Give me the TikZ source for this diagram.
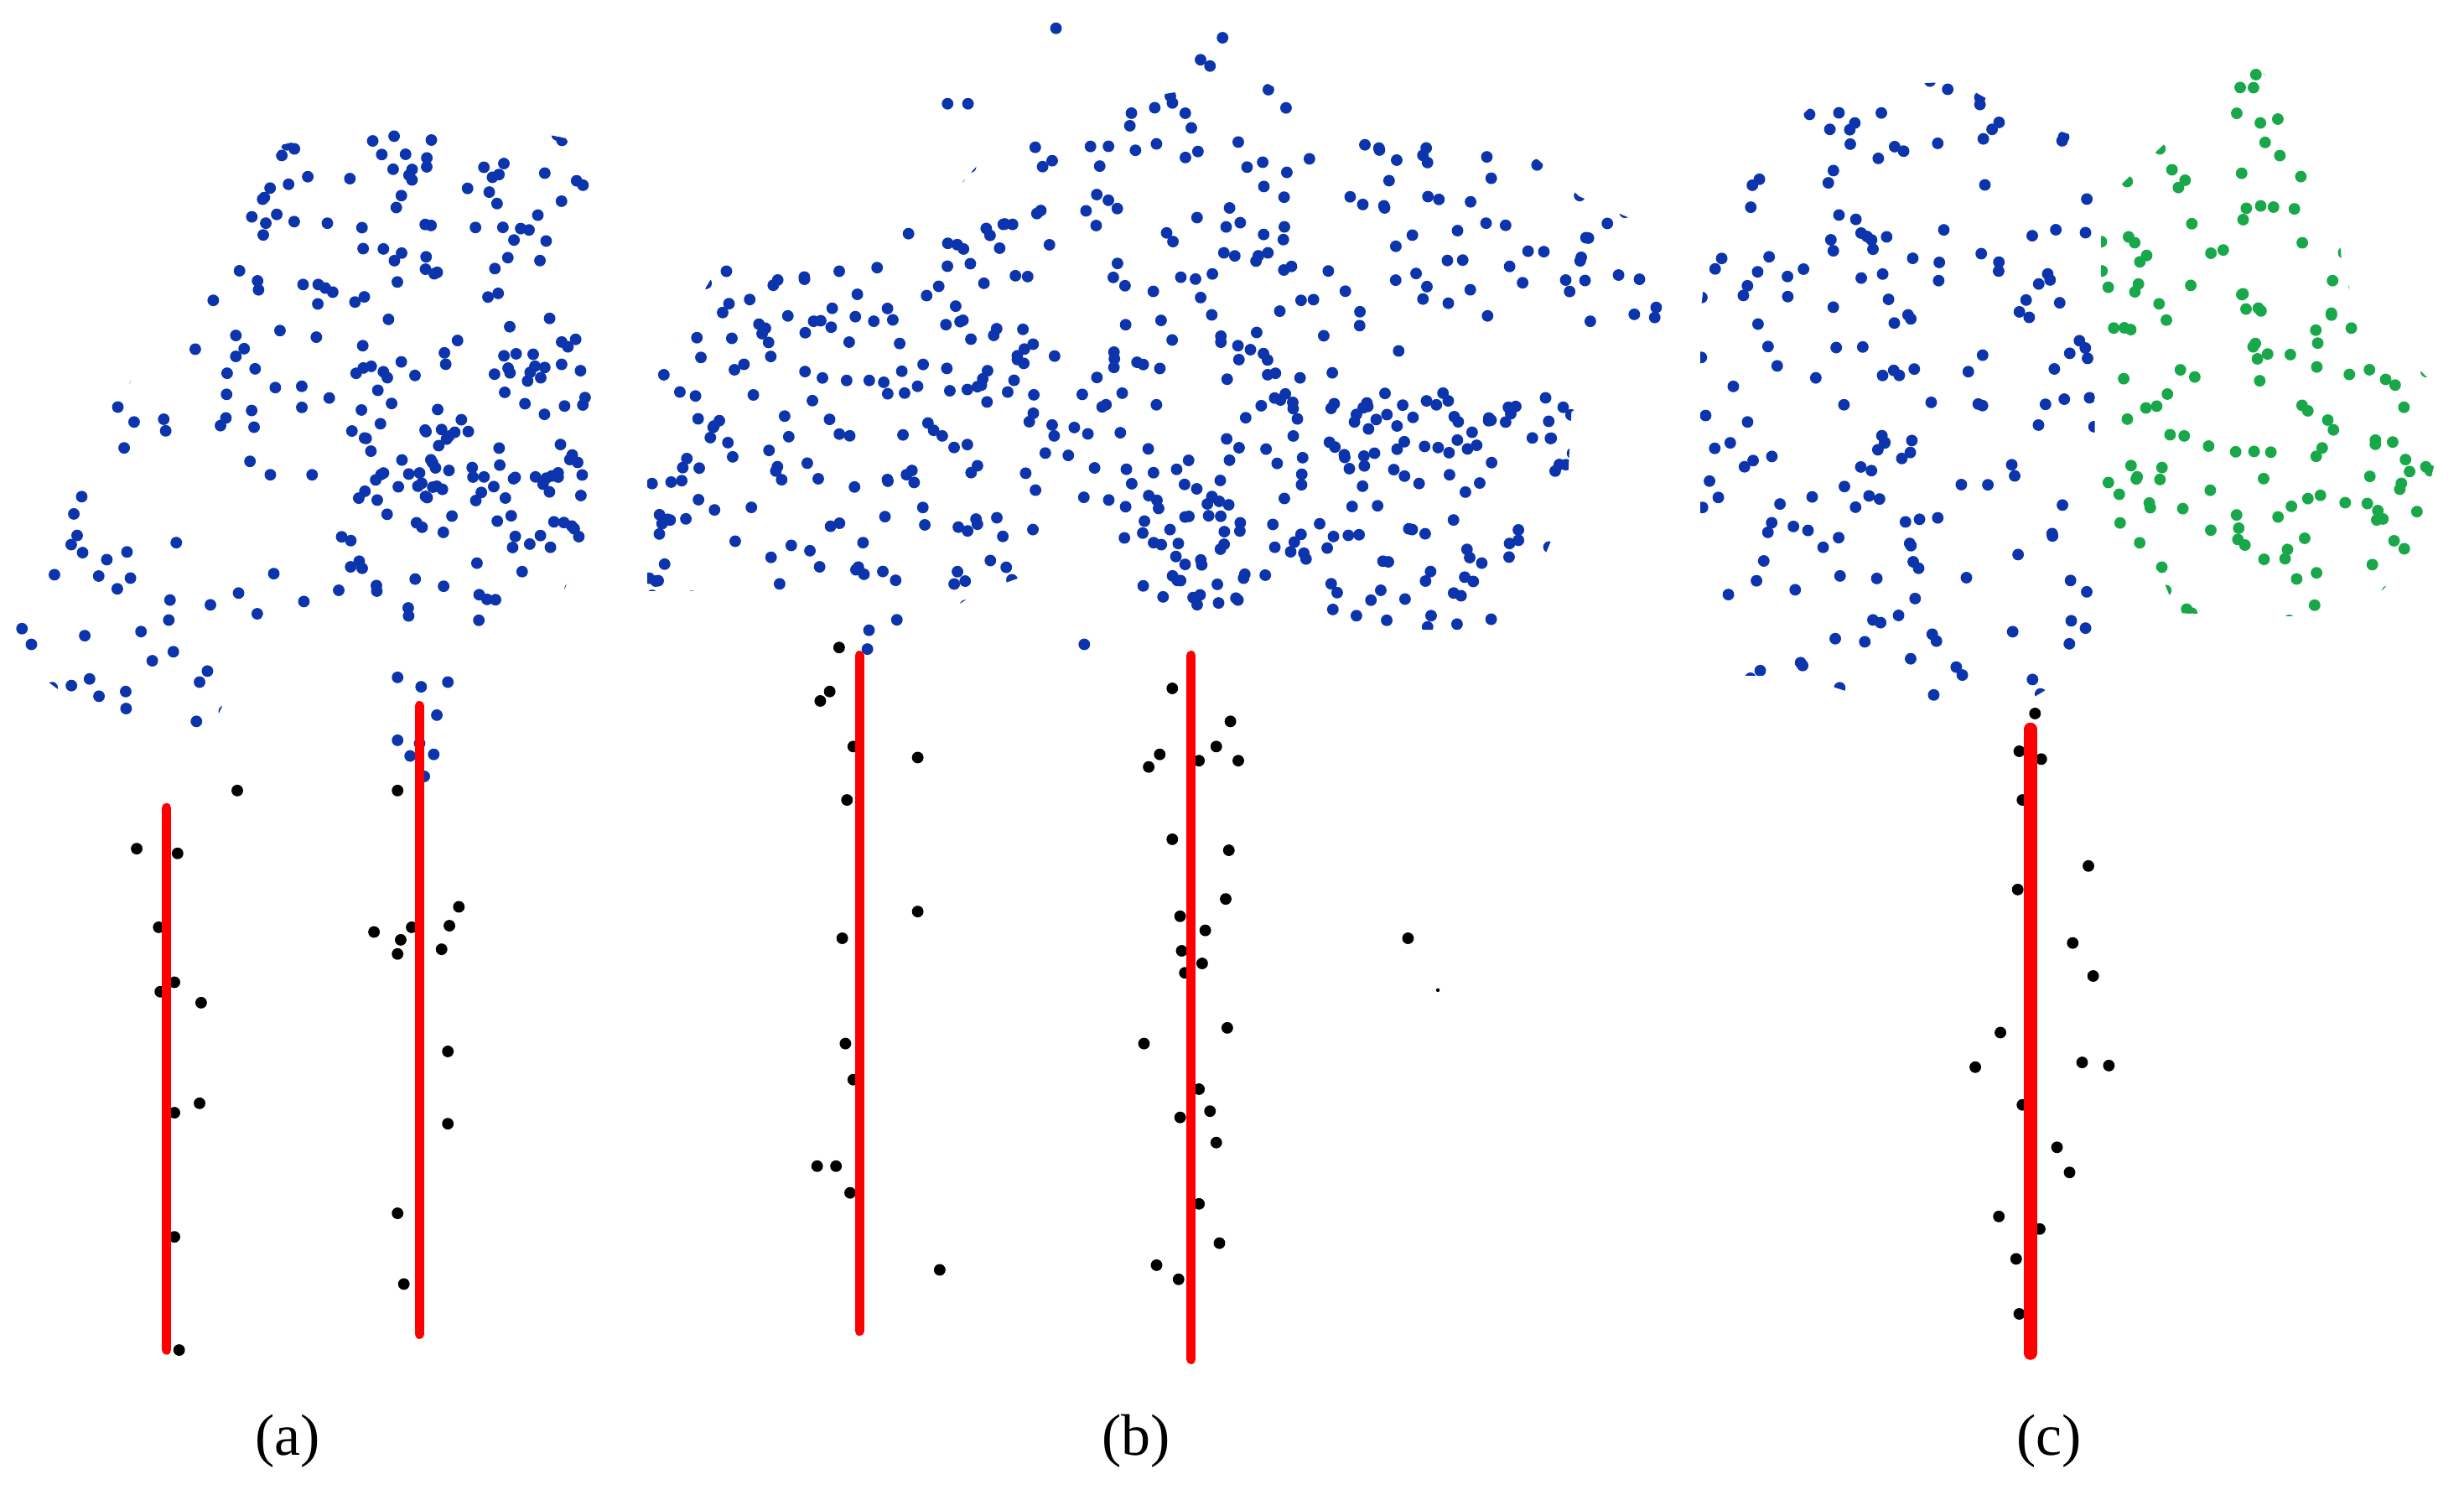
\documentclass[tikz,border=0pt]{standalone}
\usepackage{fontspec}
\setmainfont{Liberation Serif}
\definecolor{ptblue}{RGB}{12,52,172}
\definecolor{ptgreen}{RGB}{24,168,74}
\definecolor{stemred}{RGB}{255,0,0}
\tikzset{
  stemline/.style={draw=stemred, line width=0.6mm, line cap=round},
  stemthick/.style={stemline, line width=0.85mm},
  sublabel/.style={font=\fontsize{10.6}{12}\selectfont, inner sep=0pt},
  ptdot/.style={fill=#1},
}
% color, seed, count, x0, y0, width, height
\newcommand\randfield[7]{%
  \pgfmathsetseed{#2}%
  \foreach \k in {1,...,#3}{%
    \pgfmathsetmacro\rx{#4+rnd*#6}%
    \pgfmathsetmacro\ry{#5+rnd*#7}%
    \fill[ptdot=#1] (\rx,\ry) circle[radius=0.37mm];%
  }%
}
\newcommand\fixedpts[2]{%
  \foreach \px/\py in {#2}{\fill[ptdot=#1] (\px,\py) circle[radius=0.37mm];}%
}
\begin{document}
\begin{tikzpicture}[x=0.1mm,y=-0.1mm]
\useasboundingbox (0,0) rectangle (1568,951);

% ---------------- (a) blue crown ----------------
\begin{scope}
  \clip (12,398) -- (45,325) -- (80,250) -- (100,200) -- (140,148) -- (180,92)
     -- (272,70) -- (360,88) -- (376,112) -- (376,335) -- (355,385) -- (300,425)
     -- (240,440) -- (215,412) -- (170,385) -- (150,430) -- (133,468) -- (55,452)
     -- (12,420) -- cycle;
  \randfield{ptblue}{11}{55}{225}{80}{151}{135}
  \randfield{ptblue}{12}{95}{225}{215}{151}{105}
  \randfield{ptblue}{13}{40}{215}{320}{161}{75}
  \randfield{ptblue}{14}{75}{40}{90}{185}{185}
  \randfield{ptblue}{15}{16}{10}{330}{80}{140}
  \randfield{ptblue}{16}{16}{90}{370}{125}{100}
  \randfield{ptblue}{17}{7}{90}{265}{130}{105}
\end{scope}
\fixedpts{ptblue}{253/431, 268/437, 285/434, 278/455, 253/471, 267/473, 261/481,
  276/480, 270/494, 57/432, 63/443, 80/440, 127/434, 125/459, 132/427,
  14/400, 20/410, 47/327, 52/316, 79/285, 75/259}

% ---------------- (b) blue crown ----------------
\begin{scope}
  \clip (412,245) -- (460,165) -- (540,165) -- (600,130) -- (640,85) -- (700,60)
     -- (740,60) -- (800,50) -- (840,70) -- (880,90) -- (960,85) -- (1005,125)
     -- (1040,140) -- (1050,180) -- (1068,200) -- (1045,230) -- (1020,250)
     -- (1000,262) -- (997,320) -- (970,385) -- (960,402) -- (880,400)
     -- (840,412) -- (700,412) -- (670,360) -- (620,378) -- (560,418)
     -- (540,405) -- (530,376) -- (412,376) -- cycle;
  \randfield{ptblue}{21}{170}{412}{50}{656}{362}
  \randfield{ptblue}{22}{125}{412}{170}{248}{208}
  \randfield{ptblue}{23}{75}{600}{90}{250}{170}
  \randfield{ptblue}{24}{40}{850}{90}{210}{110}
  \randfield{ptblue}{25}{60}{810}{250}{190}{50}
  \randfield{ptblue}{26}{45}{810}{300}{180}{100}
  \randfield{ptblue}{27}{35}{725}{315}{65}{70}
  \randfield{ptblue}{28}{20}{660}{260}{150}{60}
\end{scope}
\fixedpts{ptblue}{672/18, 764/38, 770/42, 778/24, 603/66, 616/66, 720/72, 719/80,
  553/401, 552/413, 690/410, 1040/200, 1053/202, 1030/175}

% ---------------- (c) blue and green crowns ----------------
\begin{scope}
  \clip (1088,150) -- (1101,122) -- (1150,70) -- (1174,55) -- (1245,52) -- (1270,66)
     -- (1300,80) -- (1325,88) -- (1333,95) -- (1333,420) -- (1292,445)
     -- (1200,448) -- (1145,430) -- (1110,430) -- (1090,370) -- (1082,330)
     -- (1082,200) -- cycle;
  \randfield{ptblue}{31}{190}{1082}{50}{251}{400}
\end{scope}
\begin{scope}
  \clip (1337,140) -- (1345,122) -- (1365,103) -- (1390,80) -- (1407,62) -- (1435,42)
     -- (1450,55) -- (1485,105) -- (1490,165) -- (1497,190) -- (1532,228)
     -- (1560,255) -- (1548,300) -- (1535,356) -- (1500,392) -- (1440,392)
     -- (1385,390) -- (1375,365) -- (1340,330) -- (1337,300) -- cycle;
  \randfield{ptgreen}{43}{185}{1337}{40}{223}{355}
\end{scope}

% ---------------- black stem points ----------------
\fixedpts{black}{151/503, 87/540, 113/543, 101/590, 111/625, 102/631, 128/638,
  111/708, 127/702, 111/787, 114/859, 253/503, 238/593, 262/590, 255/598,
  253/607, 286/589, 292/577, 281/604, 285/669, 285/715, 253/772, 257/817}
\fixedpts{black}{534/412, 522/446, 528/440, 543/475, 584/482, 539/509, 584/580,
  536/597, 538/664, 543/687, 520/742, 532/742, 541/759, 598/808, 746/438,
  783/459, 774/475, 763/484, 788/484, 738/480, 731/488, 746/534, 782/541,
  780/572, 751/583, 767/592, 752/605, 765/613, 754/619, 781/654, 728/664,
  763/693, 751/711, 770/707, 774/727, 763/766, 776/791, 736/805, 750/814, 896/597}
\fill[black] (915,630) circle[radius=0.12mm];
\fixedpts{black}{1295/454, 1285/478, 1299/483, 1287/509, 1329/551, 1284/566,
  1319/600, 1332/621, 1273/657, 1257/679, 1325/676, 1342/678, 1287/703,
  1309/730, 1317/746, 1272/774, 1298/782, 1283/801, 1285/836}

% ---------------- red stems ----------------
\coordinate (a1t) at (106,514); \coordinate (a1b) at (106,859);
\coordinate (a2t) at (267,449); \coordinate (a2b) at (267,849);
\coordinate (b1t) at (547,417); \coordinate (b1b) at (547,847);
\coordinate (b2t) at (758,417); \coordinate (b2b) at (758,865);
\coordinate (c1t) at (1292,464); \coordinate (c1b) at (1292,861);
\draw[stemline] (a1t) -- (a1b);
\draw[stemline] (a2t) -- (a2b);
\draw[stemline] (b1t) -- (b1b);
\draw[stemline] (b2t) -- (b2b);
\draw[stemthick] (c1t) -- (c1b);

% ---------------- labels ----------------
\node[sublabel] (laba) at (183,917) {(a)};
\node[sublabel] (labb) at (723,917) {(b)};
\node[sublabel] (labc) at (1304,917) {(c)};
\end{tikzpicture}
\end{document}
